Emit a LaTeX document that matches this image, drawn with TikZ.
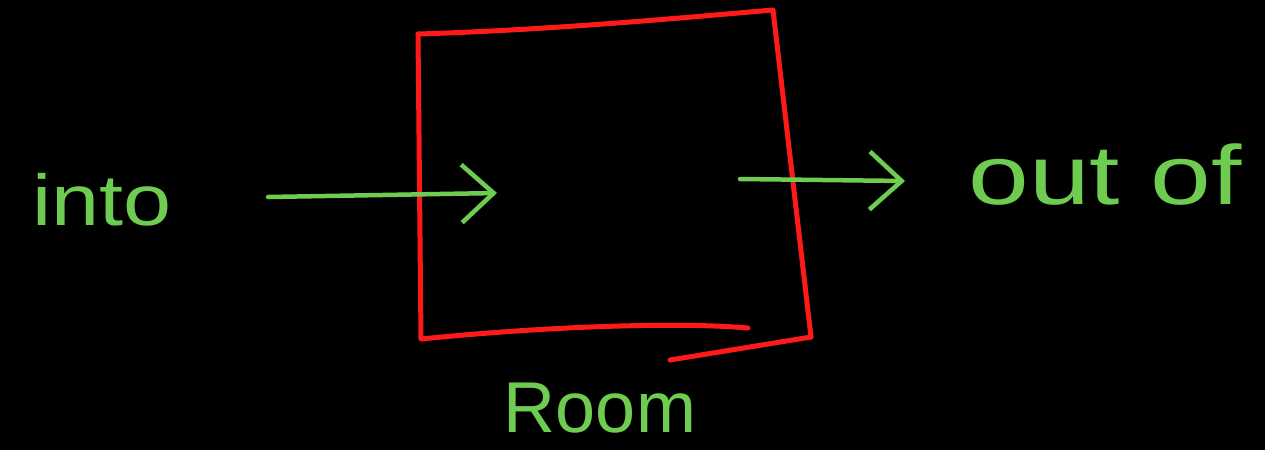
\documentclass[tikz,border=0pt]{standalone}
\usepackage{fontspec}
\setmainfont{Liberation Sans}
\usetikzlibrary{arrows.meta}
\definecolor{hgreen}{RGB}{110,205,80}
\definecolor{hred}{RGB}{255,25,25}
\tikzset{
  redline/.style={draw=hred, line width=5pt, line cap=round, line join=round},
  greenline/.style={draw=hgreen, line width=4.5pt, line cap=round,
    -{Straight Barb[length=32pt,width=58pt,line width=4.5pt]}},
  label/.style={text=hgreen, font=\fontsize{72}{72}\selectfont, inner sep=0pt}
}
\begin{document}
\begin{tikzpicture}[x=1pt,y=-1pt]
\fill[black] (0,0) rectangle (1265,450);
\useasboundingbox (0,0) rectangle (1265,450);
% room box
\coordinate (tl) at (418,34);
\coordinate (tr) at (773,10);
\coordinate (br) at (811,337);
\coordinate (bl) at (421,339);
\draw[redline] (tl) .. controls (550,30) and (680,18) .. (tr) -- (br);
\draw[redline] (tl) -- (bl) .. controls (550,326) and (680,322) .. (748,328);
\draw[redline] (670,360) -- (br);
% arrows
\coordinate (a1s) at (268,197);
\coordinate (a1e) at (497,193);
\coordinate (a2s) at (740,179);
\coordinate (a2e) at (905,181);
\draw[greenline] (a1s) -- (a1e);
\draw[greenline] (a2s) -- (a2e);
% labels
\node[label, xscale=1.2] (into) at (102,200) {into};
\node[label, font=\fontsize{84}{84}\selectfont, xscale=1.3] (outof) at (1105,175) {out of};
\node[label] (room) at (600,408) {Room};
\end{tikzpicture}
\end{document}
